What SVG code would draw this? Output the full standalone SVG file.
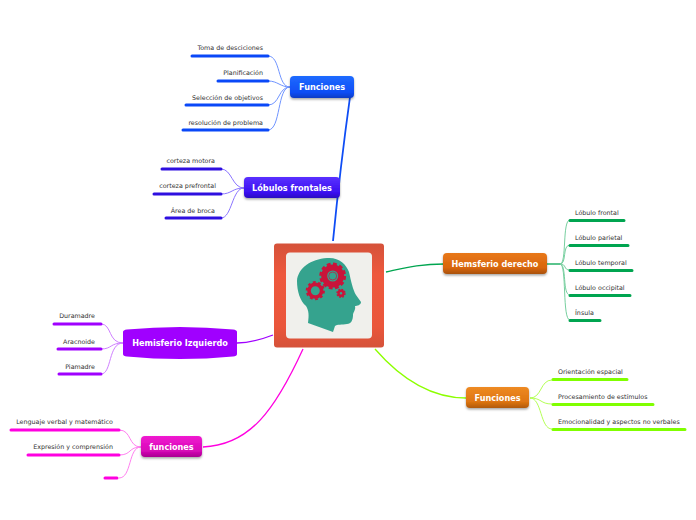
<svg xmlns="http://www.w3.org/2000/svg" width="696" height="520" viewBox="0 0 696 520">
<defs>
<linearGradient id="gb" x1="0" y1="0" x2="0" y2="1"><stop offset="0" stop-color="#1f6bff"/><stop offset=".75" stop-color="#0f4df5"/><stop offset="1" stop-color="#0a3cc4"/></linearGradient>
<linearGradient id="gv" x1="0" y1="0" x2="0" y2="1"><stop offset="0" stop-color="#5a30ff"/><stop offset=".75" stop-color="#3a10f0"/><stop offset="1" stop-color="#2a0cc0"/></linearGradient>
<linearGradient id="go" x1="0" y1="0" x2="0" y2="1"><stop offset="0" stop-color="#e8781a"/><stop offset=".7" stop-color="#d9660c"/><stop offset="1" stop-color="#a85208"/></linearGradient>
<linearGradient id="go2" x1="0" y1="0" x2="0" y2="1"><stop offset="0" stop-color="#ee8a22"/><stop offset=".7" stop-color="#de7512"/><stop offset="1" stop-color="#b05a0a"/></linearGradient>
<linearGradient id="gm" x1="0" y1="0" x2="0" y2="1"><stop offset="0" stop-color="#f01ad0"/><stop offset=".7" stop-color="#d808b8"/><stop offset="1" stop-color="#a80090"/></linearGradient>
<linearGradient id="gr" x1="0" y1="0" x2="0" y2="1"><stop offset="0" stop-color="#d5523a"/><stop offset=".3" stop-color="#ee583d"/><stop offset=".8" stop-color="#ea563b"/><stop offset="1" stop-color="#d5523a"/></linearGradient>
<filter id="sh" x="-10%" y="-20%" width="120%" height="150%"><feDropShadow dx="0" dy="1.5" stdDeviation="1.2" flood-color="#000" flood-opacity=".35"/></filter>
</defs>
<style>
text{font-family:"DejaVu Sans",Verdana,sans-serif}
.t{font-size:6.350px;fill:#333;text-anchor:end}
.ts{font-size:6.350px;fill:#333;text-anchor:start}
.n{font-size:8.150px;font-weight:700;fill:#fff;text-anchor:middle}
.u{stroke-width:3;stroke-linecap:round;fill:none}
.c{fill:none;stroke-width:1}
.m{fill:none;stroke-width:1.300}
</style>
<g id="connectors">
<path d="M333 241C338 190 344 140 350 97" stroke="#0f4df5" fill="none" stroke-width="1.800"/>
<g class="c" stroke="#6f94ff">
<path d="M290 87C277 87 281 56 268 56"/><path d="M290 87C280 87 278 81 268 81"/><path d="M290 87C278 87 280 105 268 105"/><path d="M290 87C277 87 281 130 268 130"/>
</g>
<path class="u" stroke="#0a48f8" d="M192 56H268M218 81H268M186 105H268M183 130H268"/>
<g class="c" stroke="#8b75ff">
<path d="M244 188C232 188 232 169 221 169"/><path d="M244 188C232 188 232 194 221 194"/><path d="M244 188C232 188 232 218 221 218"/>
</g>
<path class="u" stroke="#2e0fe0" d="M162 169H221M154 194H221M166 218H221"/>
<path class="m" stroke="#00a550" d="M386 272C405 268 420 264 444 264"/>
<path class="m" stroke="#00a550" d="M547 264H561"/>
<g class="c" stroke="#77cf9f">
<path d="M560 264C567 264 562 220 570 220"/><path d="M560 264C567 264 562 245 570 245"/><path d="M560 264C567 264 563 270 570 270"/><path d="M560 264C567 264 562 295 570 295"/><path d="M560 264C567 264 562 320 570 320"/>
</g>
<path class="u" stroke="#00a550" d="M570 220.500H624M570 245.500H628M570 270.500H632M570 295.500H630M570 320.500H600"/>
<path class="m" stroke="#8cff00" d="M375 349C395 372 425 398 466 398"/>
<g class="c" stroke="#b4ff55">
<path d="M530 398C542 398 540 380 552 380"/><path d="M530 398C542 398 540 404 552 404"/><path d="M530 398C542 398 540 429 552 429"/>
</g>
<path class="u" stroke="#80ff00" d="M553 379.500H627M553 404.500H653M553 429.500H685"/>
<path class="m" stroke="#a000ff" d="M237 343C250 343 260 340 273 335"/>
<g class="c" stroke="#cf80ff">
<path d="M123 343C108 343 112 324 101 324"/><path d="M123 343C110 343 112 349 101 349"/><path d="M123 343C108 343 112 374 101 374"/>
</g>
<path class="u" stroke="#a000ff" d="M54 324H101M58 349H101M59 374H101"/>
<path class="m" stroke="#ff00e0" d="M203 447C250 445 275 410 303 349"/>
<g class="c" stroke="#ff80f0">
<path d="M141 447C128 447 132 430 119 430"/><path d="M141 447C128 447 132 455 119 455"/><path d="M141 447C128 447 132 478 119 478"/>
</g>
<path class="u" stroke="#ff00e0" d="M11 430H119M28 455H119M105 478H117"/>
</g>
<g id="center">
<rect x="274" y="243.500" width="110" height="104" rx="3" fill="url(#gr)"/>
<rect x="286" y="252.500" width="86" height="86" rx="4" fill="#f0f0ec"/>
<path d="M327 258C339 257 346 264 349 272C351 281 353 290 356 295L361 302C361 305 357 306 355 306C356 310 353 312 353 315C353 320 351 324 347 324C342 325 337 324 335 326L333 332L308 323C309 315 309 311 306 306C300 301 297 291 297 281C298 268 311 259 327 258Z" fill="#35a38e"/>
<g fill="none" stroke="#c9143a">
<circle cx="332.700" cy="276" r="8.500" stroke-width="6"/>
<circle cx="332.700" cy="276" r="12" stroke-width="2.800" stroke-dasharray="3.800 2.480"/>
<circle cx="332.700" cy="276" r="4" stroke-width=".7"/>
<circle cx="315.300" cy="290.700" r="6.300" stroke-width="3.600"/>
<circle cx="315.300" cy="290.700" r="8.600" stroke-width="2" stroke-dasharray="2.800 2.600"/>
<circle cx="341" cy="293.300" r="2.500" stroke-width="2.400"/>
<circle cx="341" cy="293.300" r="4" stroke-width="1.400" stroke-dasharray="1.700 1.440"/>
</g>
</g>
<g id="funciones-top">
<rect x="290" y="76" width="64" height="22" rx="4" fill="url(#gb)" filter="url(#sh)"/>
<text class="n" x="322" y="90">Funciones</text>
</g>
<g id="funciones-top-items">
<text class="t" x="263" y="50">Toma de desciciones</text>
<text class="t" x="263" y="75">Planificación</text>
<text class="t" x="263" y="100">Selección de objetivos</text>
<text class="t" x="263" y="125">resolución de problema</text>
</g>
<g id="lobulos">
<rect x="244" y="177" width="96" height="21" rx="4" fill="url(#gv)" filter="url(#sh)"/>
<text class="n" x="292" y="191">Lóbulos frontales</text>
</g>
<g id="lobulos-items">
<text class="t" x="215" y="163">corteza motora</text>
<text class="t" x="216" y="188">corteza prefrontal</text>
<text class="t" x="215" y="213">Área de broca</text>
</g>
<g id="hderecho">
<rect x="443" y="253" width="104" height="21" rx="4" fill="url(#go)" filter="url(#sh)"/>
<text class="n" x="495" y="267">Hemsferio derecho</text>
</g>
<g id="hderecho-items">
<text class="ts" x="575" y="215">Lóbulo frontal</text>
<text class="ts" x="575" y="240">Lóbulo parietal</text>
<text class="ts" x="575" y="265">Lóbulo temporal</text>
<text class="ts" x="575" y="290">Lóbulo occipital</text>
<text class="ts" x="575" y="315">Ínsula</text>
</g>
<g id="funciones-right">
<rect x="466" y="387" width="63" height="21" rx="4" fill="url(#go2)" filter="url(#sh)"/>
<text class="n" x="497.500" y="401">Funciones</text>
</g>
<g id="funciones-right-items">
<text class="ts" x="558" y="374">Orientación espacial</text>
<text class="ts" x="558" y="399">Procesamiento de estímulos</text>
<text class="ts" x="558" y="424">Emocionalidad y aspectos no verbales</text>
</g>
<g id="hizquierdo">
<path d="M123 332Q123 330 127 329.500Q180 324.500 233 329.500Q237 330 237 332V354Q237 356 233 356.500Q180 361.500 127 356.500Q123 356 123 354Z" fill="#a000ff"/>
<text class="n" x="180" y="346">Hemisferio Izquierdo</text>
</g>
<g id="hizquierdo-items">
<text class="t" x="95" y="318">Duramadre</text>
<text class="t" x="95" y="344">Aracnoide</text>
<text class="t" x="95" y="369">Piamadre</text>
</g>
<g id="funciones-left">
<rect x="141" y="436" width="61" height="21" rx="4" fill="url(#gm)" filter="url(#sh)"/>
<text class="n" x="171.500" y="450">funciones</text>
</g>
<g id="funciones-left-items">
<text class="t" x="113" y="424">Lenguaje verbal y matemático</text>
<text class="t" x="113" y="449">Expresión y comprensión</text>
</g>
</svg>
